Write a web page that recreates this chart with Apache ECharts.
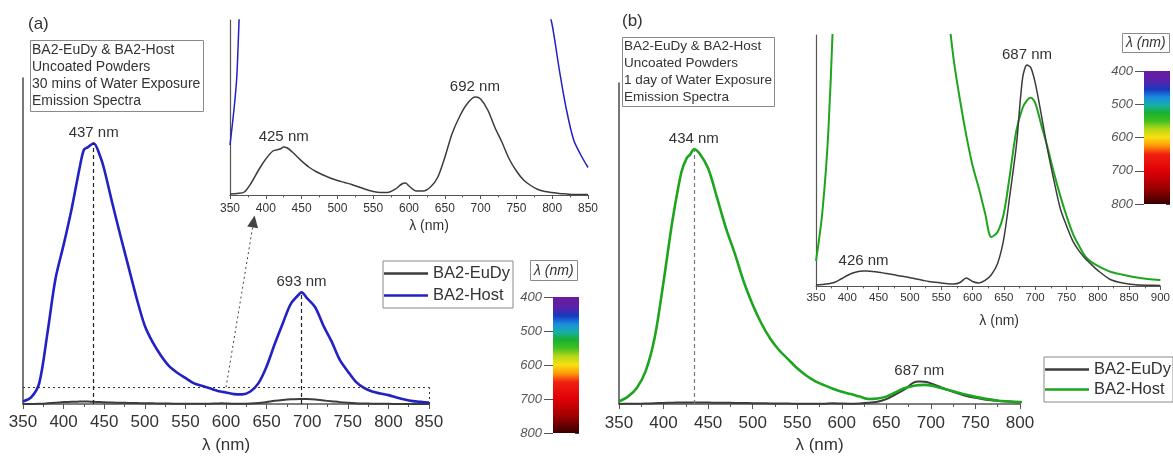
<!DOCTYPE html>
<html>
<head>
<meta charset="utf-8">
<title>BA2-EuDy & BA2-Host emission spectra</title>
<script src="https://cdn.jsdelivr.net/npm/echarts@6/dist/echarts.min.js"></script>
<style>
  html, body { margin: 0; padding: 0; background: #fff; }
  #chart { width: 1173px; height: 459px; }
</style>
</head>
<body>
<div id="chart"></div>
<script>
// ---------------- data ----------------
// (a) 30 mins of water exposure: wavelength grid (nm) and intensities (host peak = 1)
const wlA = [350,360,370,380,390,400,410,420,425,430,437,445,450,460,470,480,490,500,510,520,530,540,550,560,570,580,590,595,600,610,620,630,640,650,660,670,680,692,693,700,710,720,730,740,750,760,770,780,790,800,810,820,830,840,850];
const hostA = [0.010,0.025,0.08,0.27,0.48,0.61,0.75,0.91,0.975,0.985,1.0,0.95,0.90,0.77,0.645,0.525,0.405,0.30,0.235,0.185,0.145,0.12,0.10,0.08,0.07,0.06,0.05,0.047,0.044,0.038,0.037,0.048,0.08,0.144,0.23,0.31,0.385,0.427,0.428,0.405,0.37,0.30,0.24,0.17,0.125,0.085,0.062,0.048,0.040,0.034,0.025,0.017,0.011,0.008,0.0055];
const euDyA = [0.0002,0.0003,0.0006,0.0025,0.005,0.0072,0.0088,0.0092,0.0096,0.0094,0.0086,0.0075,0.0068,0.0056,0.0047,0.0040,0.0034,0.0029,0.0025,0.0021,0.0016,0.0011,0.0007,0.0005,0.0005,0.0011,0.0022,0.0024,0.0018,0.0008,0.0008,0.0016,0.0035,0.0075,0.0122,0.0155,0.018,0.0196,0.0196,0.0192,0.017,0.0135,0.0105,0.0072,0.0048,0.003,0.0019,0.0011,0.0007,0.0005,0.0003,0.0002,0.0001,0.0001,0.0001];
const peaksHostA = [437, 693];     // labelled in the main plot
const peaksEuDyA = [425, 692];     // labelled in the inset
const zoomLevelA = 0.064;          // dotted window height in the main plot
const zoomArrowA = [[600, 0.064], [634, 0.70]];

// (b) 1 day of water exposure
const wlB = [350,360,370,380,390,400,410,420,426,430,434,440,450,460,470,480,490,500,510,520,530,540,550,560,570,580,590,600,610,620,630,640,650,660,670,680,687,693,700,710,720,730,740,750,760,770,780,790,800,820,840,860,880,900];
const hostB = [0.010,0.029,0.063,0.13,0.26,0.48,0.72,0.91,0.965,0.98,1.0,0.985,0.925,0.81,0.69,0.59,0.48,0.39,0.315,0.255,0.21,0.175,0.14,0.112,0.09,0.074,0.060,0.048,0.039,0.029,0.0195,0.0215,0.029,0.045,0.062,0.071,0.074,0.075,0.073,0.064,0.055,0.045,0.036,0.028,0.021,0.016,0.0118,0.0095,0.0080,0.0057,0.0045,0.0035,0.0028,0.0024];
const euDyB = [0.0004,0.0006,0.0009,0.0015,0.0028,0.0042,0.0053,0.0059,0.006,0.006,0.0059,0.0058,0.0055,0.0051,0.0047,0.0042,0.0038,0.0033,0.0028,0.0023,0.0018,0.0015,0.0012,0.0009,0.0008,0.0014,0.0032,0.0018,0.0012,0.0022,0.0045,0.009,0.019,0.037,0.056,0.083,0.088,0.087,0.081,0.068,0.054,0.042,0.031,0.024,0.018,0.014,0.011,0.0085,0.0062,0.0026,0.0012,0.0005,0.0003,0.0002];
const peaksHostB = [434];
const peaksEuDyB = [687];
const peaksEuDyInsetB = [426, 687];

// visible spectrum colour scale
const spectrumNm = [400,430,455,480,505,525,550,575,600,625,650,700,750,800];
const spectrumColors = ['#6a1b9f','#5a22aa','#1838c0','#1a8ee0','#18b0a0','#18b030','#40c020','#b8d818','#f8e010','#ff9808','#f02010','#e00008','#a00000','#3a0000'];

const seriesNames = ['BA2-EuDy', 'BA2-Host'];

// ---------------- styling ----------------
const FONT = '"Liberation Sans", Arial, Helvetica, sans-serif';
const INK = '#333';
const AXIS = '#555';
const BLACK = '#3c3c3c';
const BLUE = '#2121c4';
const GREEN = '#1ea51e';

function pairs(wl, vals) { return wl.map((w, i) => [w, vals[i]]); }
function valueAt(wl, vals, x) {
  for (let i = 0; i < wl.length - 1; i++) {
    if (x >= wl[i] && x <= wl[i + 1]) {
      const t = (x - wl[i]) / (wl[i + 1] - wl[i]);
      return vals[i] + t * (vals[i + 1] - vals[i]);
    }
  }
  return vals[vals.length - 1];
}

function wavelengthAxis(gridIndex, min, max, o) {
  return {
    gridIndex, type: 'value', min, max, interval: 50,
    axisLine: { onZero: false, lineStyle: { color: AXIS, width: o.lineWidth } },
    axisTick: { length: o.tick, lineStyle: { color: AXIS, width: 1 } },
    minorTick: { show: true, splitNumber: 2, length: o.tick * 0.6, lineStyle: { color: AXIS, width: 1 } },
    axisLabel: { fontSize: o.label, color: INK, margin: o.margin, fontFamily: FONT },
    splitLine: { show: false }, minorSplitLine: { show: false },
    name: 'λ (nm)', nameLocation: 'middle', nameGap: o.nameGap,
    nameTextStyle: { fontSize: o.name, color: INK, fontFamily: FONT, padding: o.namePad || 0 }
  };
}
function intensityAxis(gridIndex, max, width) {
  return {
    gridIndex, type: 'value', min: 0, max,
    axisLine: { show: true, onZero: false, lineStyle: { color: AXIS, width } },
    axisTick: { show: false }, axisLabel: { show: false }, splitLine: { show: false }
  };
}
function scaleAxes(gridIndex) {
  return [{
    gridIndex, type: 'value', inverse: true, min: spectrumNm[0], max: spectrumNm[spectrumNm.length - 1], interval: 100,
    axisLine: { show: false },
    axisTick: { show: true, length: 9, lineStyle: { color: AXIS } },
    axisLabel: { fontSize: 13, fontStyle: 'italic', color: '#555', margin: 11, fontFamily: FONT },
    splitLine: { show: false }
  }, {
    gridIndex, type: 'value', position: 'right', inverse: true, min: spectrumNm[0], max: spectrumNm[spectrumNm.length - 1], interval: 100,
    axisLine: { show: false },
    axisTick: { show: true, inside: true, length: 4, lineStyle: { color: '#444' } },
    axisLabel: { show: false }, splitLine: { show: false }
  }];
}
function spectrumGradient() {
  const lo = spectrumNm[0], hi = spectrumNm[spectrumNm.length - 1];
  return new echarts.graphic.LinearGradient(0, 0, 0, 1,
    spectrumNm.map((nm, i) => ({ offset: (nm - lo) / (hi - lo), color: spectrumColors[i] })));
}
function scaleSeries(xi, yi, stack) {
  const lo = spectrumNm[0], hi = spectrumNm[spectrumNm.length - 1];
  return [
    { type: 'bar', xAxisIndex: xi, yAxisIndex: yi, stack, data: [lo], barWidth: '100%', silent: true,
      itemStyle: { color: 'rgba(0,0,0,0)' } },
    { type: 'bar', xAxisIndex: xi, yAxisIndex: yi, stack, data: [hi - lo], barWidth: '100%', silent: true,
      itemStyle: { color: spectrumGradient() } }
  ];
}
function peakLabels(wl, vals, peaks) {
  return {
    symbol: 'circle', symbolSize: 0, silent: true,
    label: { show: true, position: 'top', distance: 3, formatter: p => p.name, fontSize: 15, color: INK, fontFamily: FONT },
    data: peaks.map(p => ({ name: p + ' nm', coord: [p, valueAt(wl, vals, p)] }))
  };
}
function peakDrops(wl, vals, peaks, color) {
  return peaks.map(p => [
    { coord: [p, 0], lineStyle: { color, type: [4, 3], width: 1.2 } },
    { coord: [p, valueAt(wl, vals, p)] }
  ]);
}
function spectrum(name, xi, yi, wl, vals, color, width, extra) {
  return Object.assign({
    type: 'line', name, xAxisIndex: xi, yAxisIndex: yi, data: pairs(wl, vals),
    symbol: 'none', smooth: 0.3, clip: true, silent: true,
    lineStyle: { color, width, join: 'round' }, itemStyle: { color }
  }, extra || {});
}
function legendBox(left, top, pad, gap, hostColor) {
  return {
    left, top, orient: 'vertical', selectedMode: false, icon: 'rect',
    borderColor: '#8a8a8a', borderWidth: 1, padding: pad, itemGap: gap, itemWidth: 44, itemHeight: 2.5,
    textStyle: { fontSize: 16.5, lineHeight: 19, color: INK, fontFamily: FONT },
    data: [
      { name: seriesNames[0], itemStyle: { color: BLACK } },
      { name: seriesNames[1], itemStyle: { color: hostColor } }
    ]
  };
}

// axis indices: x = [a-main, a-inset, a-scale, b-main, b-inset, b-scale]
//               y = [a-main, a-inset, a-scale, a-scale-right, b-main, b-inset, b-scale, b-scale-right]
const option = {
  animation: false,
  backgroundColor: '#fff',
  textStyle: { fontFamily: FONT },
  title: [
    { text: '(a)', left: 23, top: 11, textStyle: { fontSize: 17, fontWeight: 'normal', color: INK, fontFamily: FONT } },
    { text: 'BA2-EuDy & BA2-Host\nUncoated Powders\n30 mins of Water Exposure\nEmission Spectra',
      left: 30, top: 40, borderColor: '#8a8a8a', borderWidth: 1, padding: [2, 3, 2, 2],
      textStyle: { fontSize: 14, lineHeight: 17, fontWeight: 'normal', color: INK, fontFamily: FONT } },
    { text: 'λ (nm)', left: 530, top: 260, borderColor: '#8a8a8a', borderWidth: 1, padding: [4, 4, 3, 4],
      textStyle: { fontSize: 14, fontStyle: 'italic', fontWeight: 'normal', color: INK, fontFamily: FONT } },
    { text: '(b)', left: 617, top: 8, textStyle: { fontSize: 17, fontWeight: 'normal', color: INK, fontFamily: FONT } },
    { text: 'BA2-EuDy & BA2-Host\nUncoated Powders\n1 day of Water Exposure\nEmission Spectra',
      left: 622, top: 37, borderColor: '#8a8a8a', borderWidth: 1, padding: [1, 3, 1, 2],
      textStyle: { fontSize: 13.5, lineHeight: 17, fontWeight: 'normal', color: INK, fontFamily: FONT } },
    { text: 'λ (nm)', left: 1122, top: 33, borderColor: '#8a8a8a', borderWidth: 1, padding: [3, 4, 3, 4],
      textStyle: { fontSize: 14, fontStyle: 'italic', fontWeight: 'normal', color: INK, fontFamily: FONT } }
  ],
  legend: [
    legendBox(383, 261, [3, 3, 3, 1], 3, BLUE),
    legendBox(1044, 357, [3, 2, 3, 1], 1, GREEN)
  ],
  grid: [
    { left: 23, top: 78, width: 406, height: 330 },   // (a) main
    { left: 230, top: 20, width: 358, height: 175 },  // (a) inset
    { left: 553, top: 297, width: 26, height: 136 },  // (a) colour scale
    { left: 619, top: 83, width: 401, height: 323 },  // (b) main
    { left: 816, top: 35, width: 346, height: 251 },  // (b) inset
    { left: 1144, top: 71, width: 26, height: 133 }   // (b) colour scale
  ],
  xAxis: [
    wavelengthAxis(0, 350, 850, { lineWidth: 1.6, tick: 5, label: 17, margin: 10, name: 17, nameGap: 33 }),
    wavelengthAxis(1, 350, 850, { lineWidth: 1.2, tick: 4, label: 12, margin: 8, name: 14, nameGap: 24, namePad: [0, 0, 0, 40] }),
    { gridIndex: 2, type: 'category', data: ['λ'], show: false },
    wavelengthAxis(3, 350, 800, { lineWidth: 1.6, tick: 5, label: 17, margin: 11, name: 17, nameGap: 33 }),
    wavelengthAxis(4, 350, 900, { lineWidth: 1.2, tick: 4, label: 11.5, margin: 6, name: 14, nameGap: 28, namePad: [0, 0, 0, 22] }),
    { gridIndex: 5, type: 'category', data: ['λ'], show: false }
  ],
  yAxis: [
    intensityAxis(0, 1.25, 1.6),
    intensityAxis(1, 0.035, 1.2),
    ...scaleAxes(2),
    intensityAxis(3, 1.26, 1.6),
    intensityAxis(4, 0.1, 1.2),
    ...scaleAxes(5)
  ],
  series: [
    // (a) main plot
    spectrum(seriesNames[0], 0, 0, wlA, euDyA, BLACK, 2),
    spectrum(seriesNames[1], 0, 0, wlA, hostA, BLUE, 2.6, {
      markPoint: peakLabels(wlA, hostA, peaksHostA),
      markLine: {
        silent: true, symbol: 'none', label: { show: false },
        data: [
          ...peakDrops(wlA, hostA, peaksHostA, '#222'),
          [{ coord: [wlA[0], zoomLevelA], lineStyle: { color: '#333', type: [2, 3], width: 1 } }, { coord: [wlA[wlA.length - 1], zoomLevelA] }],
          [{ coord: [wlA[wlA.length - 1], 0], lineStyle: { color: '#333', type: [2, 3], width: 1 } }, { coord: [wlA[wlA.length - 1], zoomLevelA] }],
          [{ coord: zoomArrowA[0], symbol: 'none', lineStyle: { color: '#444', type: [2, 3], width: 1 } },
           { coord: zoomArrowA[1], symbol: 'triangle', symbolSize: [11, 12] }]
        ]
      }
    }),
    // (a) inset
    spectrum(seriesNames[1], 1, 1, wlA, hostA, BLUE, 1.5),
    spectrum(seriesNames[0], 1, 1, wlA, euDyA, BLACK, 1.5, { markPoint: peakLabels(wlA, euDyA, peaksEuDyA) }),
    // (a) colour scale
    ...scaleSeries(2, 2, 'scaleA'),
    // (b) main plot
    spectrum(seriesNames[0], 3, 4, wlB, euDyB, BLACK, 2, { markPoint: peakLabels(wlB, euDyB, peaksEuDyB) }),
    spectrum(seriesNames[1], 3, 4, wlB, hostB, GREEN, 2.6, {
      markPoint: peakLabels(wlB, hostB, peaksHostB),
      markLine: { silent: true, symbol: 'none', label: { show: false }, data: peakDrops(wlB, hostB, peaksHostB, '#777') }
    }),
    // (b) inset
    spectrum(seriesNames[1], 4, 5, wlB, hostB, GREEN, 2),
    spectrum(seriesNames[0], 4, 5, wlB, euDyB, BLACK, 1.5, { markPoint: peakLabels(wlB, euDyB, peaksEuDyInsetB) }),
    // (b) colour scale
    ...scaleSeries(5, 6, 'scaleB')
  ]
};

const chart = echarts.init(document.getElementById('chart'), null, { renderer: 'canvas' });
chart.setOption(option);
</script>
</body>
</html>
